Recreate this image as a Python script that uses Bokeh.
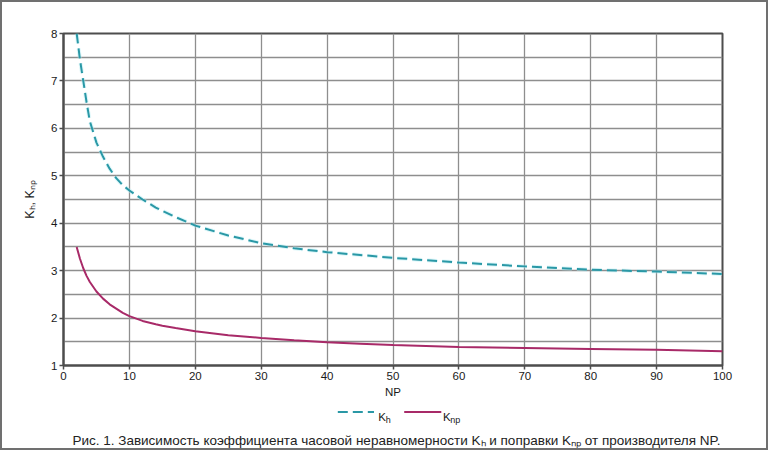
from bokeh.plotting import figure
from bokeh.layouts import column
from bokeh.models import Range1d, FixedTicker
from bokeh.core.properties import value
from bokeh.embed import file_html
from bokeh.resources import INLINE

# ---- data ----
np_values = [2, 2.5, 3, 3.5, 4, 5, 6, 7, 8, 9, 10, 12, 14, 15, 17, 20, 25, 30, 35, 40, 45,
             50, 60, 70, 80, 90, 100]
kh_values = [8.0, 7.45, 7.0, 6.55, 6.15, 5.7, 5.4, 5.15, 4.95, 4.8, 4.69, 4.5, 4.33, 4.26, 4.13,
             3.95, 3.74, 3.58, 3.47, 3.39, 3.33, 3.27, 3.17, 3.09, 3.02, 2.98, 2.93]
knp_values = [3.5, 3.25, 3.05, 2.89, 2.76, 2.56, 2.41, 2.29, 2.2, 2.11, 2.04, 1.94, 1.87, 1.84, 1.79,
              1.72, 1.64, 1.58, 1.53, 1.49, 1.46, 1.43, 1.39, 1.37, 1.35, 1.33, 1.30]
x_ticks = [0, 10, 20, 30, 40, 50, 60, 70, 80, 90, 100]
y_ticks = [1, 2, 3, 4, 5, 6, 7, 8]
y_minor_ticks = [1.5, 2.5, 3.5, 4.5, 5.5, 6.5, 7.5]
x_label = "NP"
y_label = "K\u2095, K\u2099\u209a"
legend_main = ["K", "K"]
legend_sub = ["h", "np"]
caption = ["Рис. 1. Зависимость коэффициента часовой неравномерности K\u2095 "
           "и поправки K\u2099\u209a от производителя NP."]

# ---- layout ----
OFF = 2                     # page offset of the canvases (css border 2)
W = 764
MAIN_H = 400
FOOT_H = 46
FL, FR, FT, FB = 63 - OFF, 722 - OFF, 33 - OFF, 365 - OFF

KH_COLOR = "#2a98a6"
KNP_COLOR = "#a82a68"
GRID = "#8e8e8e"
DARK = "#4d4d4d"
TEXT = "#1a1a1a"
FRAME_C = "#707070"
FONT = "Liberation Sans"

p = figure(width=W, height=MAIN_H, x_range=Range1d(0, 100), y_range=Range1d(1, 8),
           output_backend="svg", toolbar_location=None,
           min_border_left=FL, min_border_right=W - FR, min_border_top=FT,
           min_border_bottom=MAIN_H - FB)
p.background_fill_color = "white"
p.border_fill_color = "white"
p.outline_line_color = DARK
p.outline_line_width = 2

p.xaxis.ticker = FixedTicker(ticks=x_ticks)
p.yaxis.ticker = FixedTicker(ticks=y_ticks, minor_ticks=y_minor_ticks)
for ax in (p.xaxis[0], p.yaxis[0]):
    ax.axis_line_color = DARK
    ax.axis_line_width = 2
    ax.major_tick_line_color = DARK
    ax.major_tick_line_width = 1.5
    ax.major_tick_out = 4
    ax.major_tick_in = 0
    ax.minor_tick_line_color = None
    ax.major_label_text_font = FONT
    ax.major_label_text_font_size = "11.5px"
    ax.major_label_text_color = TEXT
    ax.major_label_standoff = 2
    ax.axis_label_text_font = FONT
    ax.axis_label_text_font_style = "normal"
    ax.axis_label_text_color = TEXT
p.xaxis.axis_label = x_label
p.xaxis.axis_label_text_font_size = "11.5px"
p.xaxis.axis_label_standoff = 3
p.yaxis.axis_label = y_label
p.yaxis.axis_label_text_font_size = "12.5px"
p.yaxis.axis_label_standoff = 11

p.xgrid.grid_line_color = GRID
p.xgrid.grid_line_width = 1.3
p.ygrid.grid_line_color = GRID
p.ygrid.grid_line_width = 1.3
p.ygrid.minor_grid_line_color = GRID
p.ygrid.minor_grid_line_width = 1.3

p.line(np_values, kh_values, line_color="#b5eef4", line_width=4, line_alpha=0.45, line_dash="10 5")
p.line(np_values, kh_values, line_color=KH_COLOR, line_width=2, line_dash="10 5")
p.line(np_values, knp_values, line_color=KNP_COLOR, line_width=2)

# ---- footer: legend and caption (pixel-like coordinates, y downwards) ----
pf = figure(width=W, height=FOOT_H, x_range=Range1d(0, W), y_range=Range1d(FOOT_H, 0),
            output_backend="svg", toolbar_location=None, min_border=0,
            x_axis_location=None, y_axis_location=None)
for g in pf.grid:
    g.visible = False
pf.outline_line_color = None
pf.background_fill_color = "white"
pf.border_fill_color = "white"

FY = MAIN_H + OFF           # page y of footer top
def fx(px):
    return px - OFF
def fy(py):
    return py - FY

LEG_Y = fy(411.5)
pf.line([fx(320), fx(362)], [LEG_Y, LEG_Y], line_color=KH_COLOR, line_width=2, line_dash="10 5")
pf.line([fx(397), fx(440)], [LEG_Y, LEG_Y], line_color=KNP_COLOR, line_width=2)
pf.text([fx(367), fx(442)], [fy(416), fy(416)], text=legend_main, text_font=value(FONT),
        text_font_size="11.5px", text_color=TEXT, text_baseline="alphabetic")
pf.text([fx(375.5), fx(450.5)], [fy(419), fy(419)], text=legend_sub, text_font=value(FONT),
        text_font_size="9px", text_color=TEXT, text_baseline="alphabetic")

pf.text([fx(388)], [fy(440)], text=caption, text_font=value(FONT),
        text_font_size="13.5px", text_color="#222222", text_baseline="alphabetic", text_align="center")

layout = column(p, pf, spacing=0,
                styles={"border": "2px solid " + FRAME_C, "box-sizing": "content-box"})

open("out.html", "w").write(file_html(layout, INLINE))
